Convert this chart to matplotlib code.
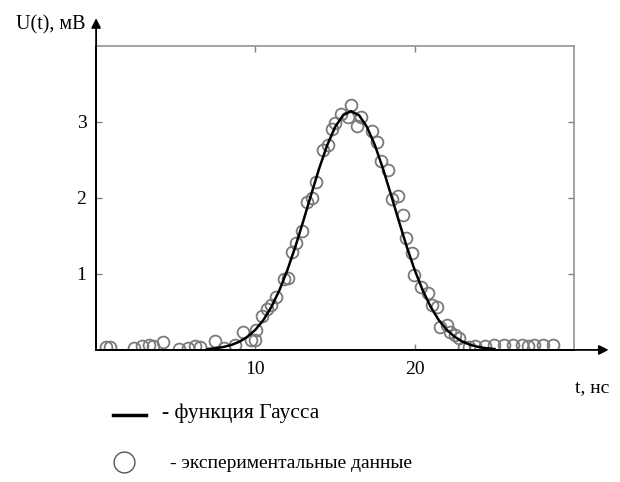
import matplotlib
matplotlib.use("Agg")
import matplotlib.pyplot as plt
from matplotlib.lines import Line2D

plt.rcParams['font.family'] = ['Liberation Serif', 'DejaVu Serif']

exp_t = [0.6, 0.9, 2.4, 2.85, 3.3, 3.55, 4.2, 5.2, 5.75, 6.2, 6.55, 7.45, 8.0, 8.7,
         9.25, 9.7, 9.95, 10.05, 10.4, 10.7, 10.95, 11.3, 11.8, 12.05, 12.3, 12.55,
         12.95, 13.25, 13.55, 13.8, 14.25, 14.55, 14.8, 15.0, 15.4, 15.8, 16.0, 16.4,
         16.65, 17.3, 17.65, 17.9, 18.3, 18.55, 18.95, 19.25, 19.45, 19.8, 19.95,
         20.4, 20.8, 21.05, 21.4, 21.6, 22.0, 22.2, 22.5, 22.8, 23.1, 23.4, 23.75,
         24.4, 24.95, 25.6, 26.15, 26.75, 27.1, 27.5, 28.05, 28.7]
exp_u = [0.04, 0.04, 0.03, 0.05, 0.06, 0.05, 0.10, 0.01, 0.03, 0.05, 0.04, 0.12, 0.02, 0.06,
         0.23, 0.13, 0.13, 0.26, 0.44, 0.54, 0.59, 0.70, 0.93, 0.94, 1.29, 1.40,
         1.56, 1.95, 2.00, 2.21, 2.63, 2.69, 2.90, 2.98, 3.10, 3.07, 3.22, 2.94,
         3.07, 2.88, 2.74, 2.49, 2.37, 1.98, 2.02, 1.78, 1.47, 1.28, 0.98,
         0.83, 0.75, 0.59, 0.56, 0.30, 0.33, 0.23, 0.19, 0.16, 0.04, 0.04, 0.05,
         0.05, 0.06, 0.06, 0.07, 0.06, 0.05, 0.06, 0.06, 0.07]

# gauss fit line
fit_t = [7, 7.5, 8, 8.5, 9, 9.5, 10, 10.5, 11, 11.5, 12, 12.5, 13, 13.5, 14, 14.5,
         15, 15.5, 16, 16.5, 17, 17.5, 18, 18.5, 19, 19.5, 20, 20.5, 21, 21.5, 22,
         22.5, 23, 23.5, 24, 24.5, 25]
fit_u = [0.012, 0.022, 0.039, 0.066, 0.109, 0.173, 0.266, 0.394, 0.565, 0.783, 1.048,
         1.355, 1.694, 2.045, 2.387, 2.691, 2.932, 3.087, 3.14, 3.087, 2.932, 2.691,
         2.387, 2.045, 1.694, 1.355, 1.048, 0.783, 0.565, 0.394, 0.266, 0.173, 0.109,
         0.066, 0.039, 0.022, 0.012]

x_ticks = [10, 20]
y_ticks = [1, 2, 3]

fig = plt.figure(figsize=(6.2, 4.82), dpi=100)
ax = fig.add_axes([0.155, 0.274, 0.771, 0.631])

ax.plot(exp_t, exp_u, 'o', ms=8.5, mfc='none', mec='#7a7a7a', mew=1.3, zorder=2)
ax.plot(fit_t, fit_u, color='black', lw=1.8, zorder=3)

ax.set_xlim(0, 30)
ax.set_ylim(0, 4)
ax.set_xticks(x_ticks)
ax.set_yticks(y_ticks)
ax.tick_params(direction='in', length=4, width=1, color='#808080',
               top=True, right=True, labelsize=14)
ax.tick_params(axis='x', pad=8)
ax.tick_params(axis='y', pad=7)

for s in ['top', 'right']:
    ax.spines[s].set_color('#8a8a8a')
    ax.spines[s].set_linewidth(1.1)
for s in ['left', 'bottom']:
    ax.spines[s].set_color('black')
    ax.spines[s].set_linewidth(1.3)

# axis arrows
ax.annotate('', xy=(0, 1.10), xytext=(0, 0), xycoords='axes fraction',
            arrowprops=dict(arrowstyle='-|>', color='black', lw=1.3, mutation_scale=14),
            annotation_clip=False)
ax.annotate('', xy=(1.078, 0), xytext=(0, 0), xycoords='axes fraction',
            arrowprops=dict(arrowstyle='-|>', color='black', lw=1.3, mutation_scale=14),
            annotation_clip=False)

fig.text(16 / 620, 1 - 25 / 482, 'U(t), мВ', fontsize=14.5, ha='left', va='center')
fig.text(575 / 620, 1 - 388 / 482, 't, нс', fontsize=14, ha='left', va='center')

# legend drawn by hand, as in the original
fig.add_artist(Line2D([113 / 620, 146 / 620], [1 - 415 / 482, 1 - 415 / 482],
                      color='black', lw=2.5))
fig.add_artist(Line2D([124 / 620], [1 - 462 / 482], marker='o', ms=15, mfc='none',
                      mec='#555555', mew=1.0))
fig.text(162 / 620, 1 - 413 / 482, '- функция Гаусса', fontsize=15.5, ha='left', va='center')
fig.text(170 / 620, 1 - 464 / 482, '- экспериментальные данные', fontsize=14,
         ha='left', va='center')

fig.savefig('out.png', dpi=100)
